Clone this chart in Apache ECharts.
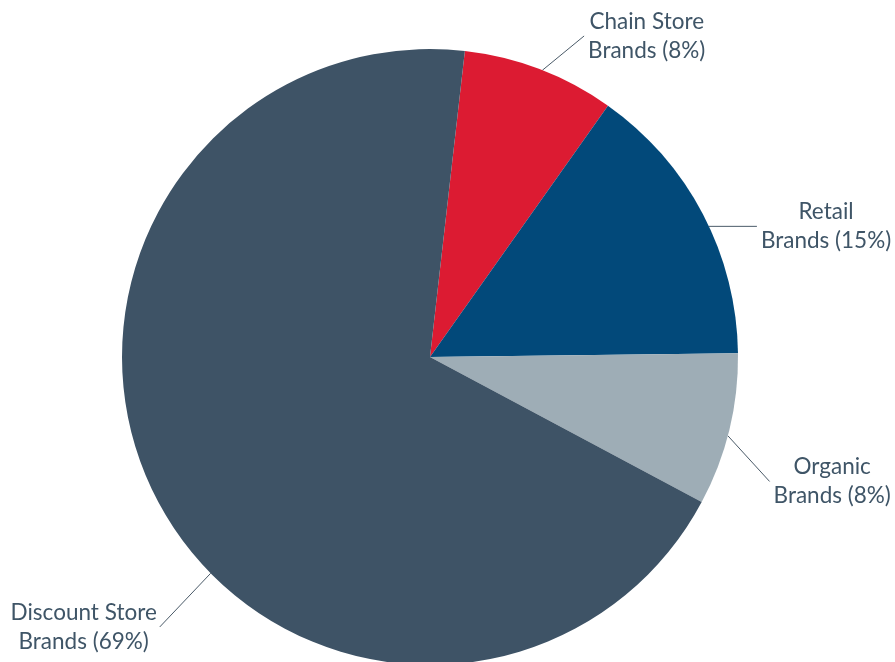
<!DOCTYPE html>
<html>
<head>
<meta charset="utf-8">
<style>
  html, body { margin: 0; padding: 0; background: #ffffff; }
  #chart { width: 895px; height: 662px; }
</style>
<script src="https://cdn.jsdelivr.net/npm/echarts@6/dist/echarts.min.js"></script>
</head>
<body>
<div id="chart"></div>
<script>
// Brand share breakdown (percent)
const categories = ['Chain Store', 'Retail', 'Organic', 'Discount Store'];
const shares = [8, 15, 8, 69];
const sliceColors = ['#dc1b32', '#02497a', '#9eadb6', '#3e5366'];

const textColor = '#3f5567';
const pieCenter = [430, 357];
const pieRadius = 308;

// Leader-line geometry per slice: where the line leaves the rim (degrees,
// counter-clockwise from 3 o'clock), which way it heads, and how long it is.
const guides = [
  { rim: 68.6, heading: 39.4, len: 54, side: 'right' },
  { rim: 25.1, heading: 0, len: 48, side: 'right' },
  { rim: -14.8, heading: -47.6, len: 62, side: 'right' },
  { rim: 224.6, heading: 226.5, len: 74, side: 'left' }
];

const rad = d => d * Math.PI / 180;

const chart = echarts.init(document.getElementById('chart'), null, { renderer: 'canvas' });

chart.setOption({
  backgroundColor: '#ffffff',
  animation: false,
  series: [{
    type: 'pie',
    center: pieCenter,
    radius: pieRadius,
    startAngle: 83.5,
    clockwise: true,
    avoidLabelOverlap: false,
    data: categories.map((name, i) => ({
      name: name,
      value: shares[i],
      itemStyle: { color: sliceColors[i] }
    })),
    label: {
      show: true,
      position: 'outside',
      alignTo: 'none',
      fontFamily: 'Lato',
      fontSize: 22.5,
      color: textColor,
      formatter: p => '{a|' + p.name + '}\n{a|Brands (' + p.value + '%)}',
      rich: {
        a: {
          align: 'center',
          fontFamily: 'Lato',
          fontSize: 22.5,
          lineHeight: 29,
          color: textColor
        }
      }
    },
    labelLine: {
      show: true,
      length: 45,
      length2: 0,
      smooth: false,
      lineStyle: { color: '#4a5a68', width: 1 }
    },
    labelLayout: function (params) {
      const g = guides[params.dataIndex];
      const sx = pieCenter[0] + pieRadius * Math.cos(rad(g.rim));
      const sy = pieCenter[1] - pieRadius * Math.sin(rad(g.rim));
      const ex = sx + g.len * Math.cos(rad(g.heading));
      const ey = sy - g.len * Math.sin(rad(g.heading));
      const right = g.side === 'right';
      return {
        x: right ? ex + 4 : ex - 3,
        y: ey,
        align: right ? 'left' : 'right',
        verticalAlign: 'middle',
        labelLinePoints: [[sx, sy], [ex, ey], [ex, ey]]
      };
    },
    emphasis: { disabled: true }
  }]
});
</script>
</body>
</html>
